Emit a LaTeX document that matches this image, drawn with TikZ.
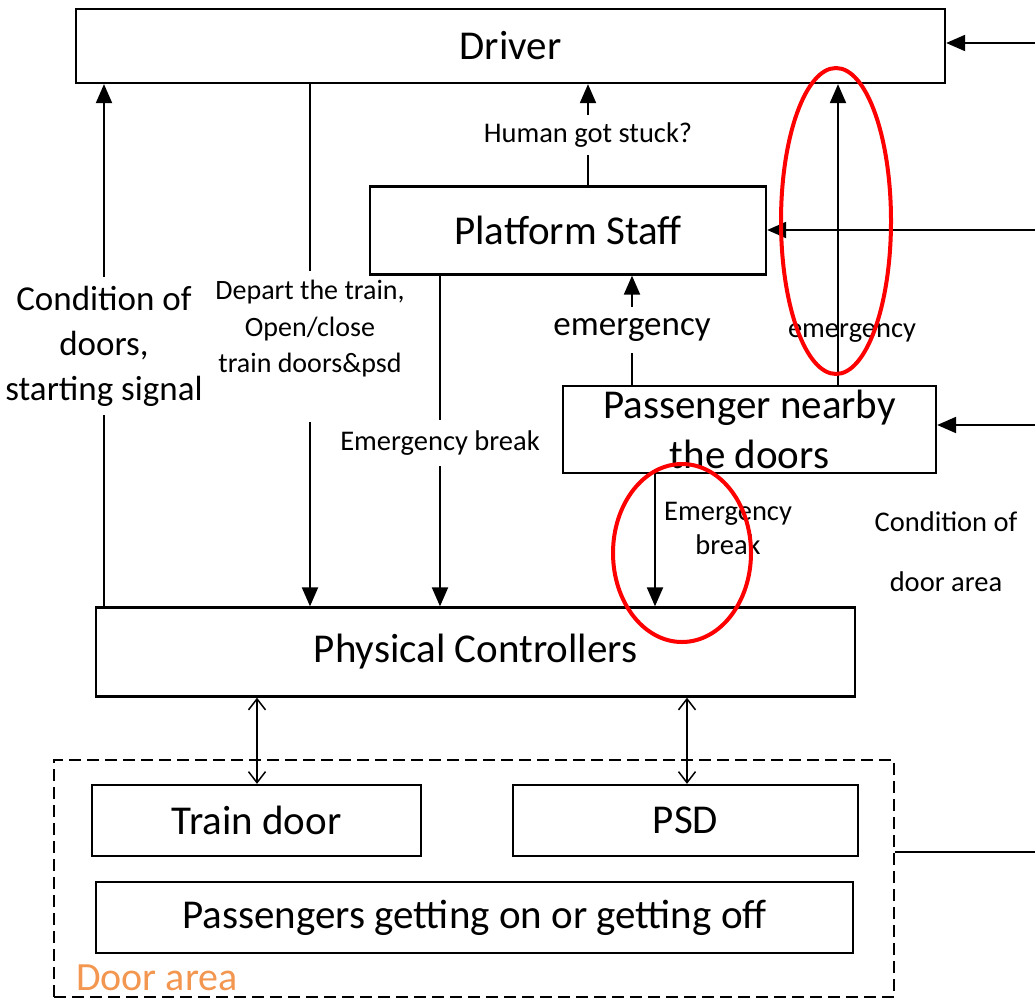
\documentclass[tikz,border=0pt]{standalone}
\usepackage{fontspec}
\setmainfont{Carlito}
\usetikzlibrary{arrows.meta}

\tikzset{
  box/.style={draw, line width=2.3pt, fill=white, inner sep=0pt,
              font=\fontsize{41}{49}\selectfont},
  arr/.style={line width=2.1pt, -{Triangle[length=19pt,width=16pt]}},
  plain/.style={line width=2.1pt},
  dbl/.style={line width=1.5pt,
              {Straight Barb[length=11pt,width=17pt,line width=1.5pt]}-{Straight Barb[length=11pt,width=17pt,line width=1.5pt]}},
  lab/.style={align=center, inner sep=0pt,
              font=\fontsize{28.5}{36}\selectfont},
  biglab/.style={align=center, inner sep=0pt,
              font=\fontsize{35}{45}\selectfont},
  redring/.style={draw=red, line width=4pt}
}

\begin{document}
\begin{tikzpicture}[x=1pt, y=-1pt]
  \useasboundingbox (0,0) rectangle (1035,998);

  % Boxes
  \node[box, minimum width=869pt, minimum height=74pt] (driver) at (510.5,46) {Driver};
  \node[box, minimum width=396pt, minimum height=88pt] (staff) at (568,230.5) {Platform Staff};
  \node[box, minimum width=373pt, minimum height=87pt,
        label={[align=center, font=\fontsize{41}{50}\selectfont, inner sep=0pt]center:Passenger nearby\\the doors}]
        (pass) at (749.5,429.5) {};
  \node[box, minimum width=759pt, minimum height=89pt] (pc) at (475.5,652) {Physical Controllers};

  % Door area
  \node[draw, line width=1.7pt, dash pattern=on 12pt off 6pt, minimum width=840pt,
        minimum height=237pt, inner sep=0pt] (area) at (474,878.5) {};
  \node[box, minimum width=329pt, minimum height=71pt] (train) at (256.5,820.5) {Train door};
  \node[box, minimum width=345pt, minimum height=71pt] (psd) at (685.5,820.5) {PSD};
  \node[box, minimum width=757pt, minimum height=71pt] (getting) at (474.5,917.5) {Passengers getting on or getting off};
  \node[anchor=base west, inner sep=0pt, text={rgb,255:red,242;green,150;blue,80},
        font=\fontsize{40}{48}\selectfont] (arealabel) at (76,990) {Door area};

  % Connector labels (lines stop at their top and bottom)
  \node[biglab, minimum height=138pt] (l1) at (104,346) {Condition of\\doors,\\starting signal};
  \node[lab, font=\fontsize{28}{36.5}\selectfont, inner ysep=9pt] (l2) at (310,329) {Depart the train,\\Open/close\\train doors\&psd};
  \coordinate (l2low) at (310,422);
  \node[lab, minimum height=46pt] (l3) at (440,443) {Emergency break};
  \node[lab, minimum height=40pt] (l4) at (588,135) {Human got stuck?};
  \node[biglab, minimum height=46pt] (l5) at (632,330) {emergency};
  \node[lab] (l6) at (852,333) {emergency};
  \node[lab, font=\fontsize{28.5}{34}\selectfont] (l7) at (728,528) {Emergency\\break};
  \node[lab, font=\fontsize{28.5}{60}\selectfont] (l8) at (946,552) {Condition of\\door area};

  % Feedback inputs entering from the right
  \coordinate (inA) at (1035,43);
  \coordinate (inB) at (1035,230);
  \coordinate (inC) at (1035,425);
  \coordinate (outD) at (1035,852);
  \draw[arr] (inA) -- (inA -| driver.east);
  \draw[arr] (inB) -- (inB -| staff.east);
  \draw[arr] (inC) -- (inC -| pass.east);
  \draw[plain] (outD -| area.east) -- (outD);

  % Vertical connectors
  \coordinate (xf) at (838,0);
  \coordinate (xg) at (655,0);
  \coordinate (xh) at (257,0);
  \coordinate (xi) at (687,0);

  \draw[plain] (l1.south |- pc.north) -- (l1.south);
  \draw[arr] (l1.north) -- (l1.north |- driver.south);
  \draw[plain] (l2.north |- driver.south) -- (l2.north);
  \draw[arr] (l2low) -- (l2low |- pc.north);
  \draw[plain] (l3.north |- staff.south) -- (l3.north);
  \draw[arr] (l3.south) -- (l3.south |- pc.north);
  \draw[plain] (l4.south |- staff.north) -- (l4.south);
  \draw[arr] (l4.north) -- (l4.north |- driver.south);
  \draw[plain] (l5.south |- pass.north) -- (l5.south);
  \draw[arr] (l5.north) -- (l5.north |- staff.south);
  \draw[arr] (xf |- pass.north) -- (xf |- driver.south);
  \draw[arr] (xg |- pass.south) -- (xg |- pc.north);
  \draw[dbl] (xh |- pc.south) -- (xh |- train.north);
  \draw[dbl] (xi |- pc.south) -- (xi |- psd.north);

  % Highlight rings
  \draw[redring] (836,221) ellipse [x radius=55pt, y radius=153pt];
  \draw[redring] (682,553) ellipse [x radius=69pt, y radius=89pt];
\end{tikzpicture}
\end{document}
